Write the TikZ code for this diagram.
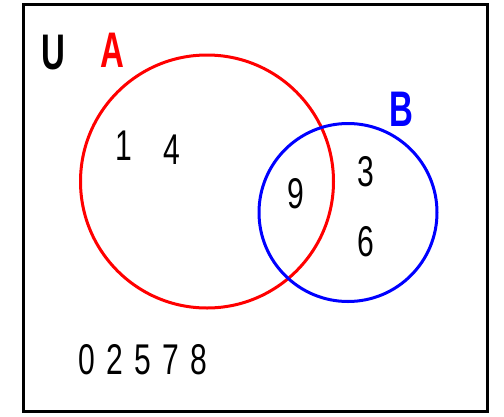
\documentclass[tikz,border=0pt]{standalone}
\usepackage{fontspec}
\setmainfont{Liberation Sans}
\usepackage{graphicx}
\definecolor{vred}{RGB}{255,0,0}
\definecolor{vblue}{RGB}{0,0,255}
\newcommand\digs[1]{\scalebox{0.7}[1]{\fontsize{43}{43}\selectfont #1}}
\newcommand\lets[1]{\scalebox{0.66}[1]{\fontsize{50}{50}\selectfont\bfseries #1}}
\newcommand\dgap{\hspace{16pt}}
\begin{document}
\begin{tikzpicture}[x=1pt,y=-1pt,
  frame/.style={draw=black, line width=3pt, inner sep=0pt},
  setcircle/.style={circle, line width=3pt, inner sep=0pt},
  elem/.style={inner sep=0pt, anchor=base},
  setlabel/.style={inner sep=0pt, anchor=base}]
\useasboundingbox (0,0) rectangle (504,416);
\node[frame, minimum width=464pt, minimum height=407pt] (U frame) at (255,207.5) {};
\node[setcircle, draw=vred, minimum size=253pt] (A) at (207,181.5) {};
\node[setcircle, draw=vblue, minimum size=178pt] (B) at (348,212.5) {};
\node[setlabel, text=black] (Ulabel) at (53.5,69) {\lets{U}};
\node[setlabel, text=vred] (Alabel) at (112,67) {\lets{A}};
\node[setlabel, text=vblue] (Blabel) at (401.5,126) {\lets{B}};
\node[elem] (e1) at (124,160) {\digs{1}};
\node[elem] (e4) at (171.5,164) {\digs{4}};
\node[elem] (e9) at (295.5,208) {\digs{9}};
\node[elem] (e3) at (365.5,186) {\digs{3}};
\node[elem] (e6) at (365.5,256) {\digs{6}};
\node[elem] (rest) at (143,374) {\digs{0\dgap 2\dgap 5\dgap 7\dgap 8}};
\end{tikzpicture}
\end{document}
